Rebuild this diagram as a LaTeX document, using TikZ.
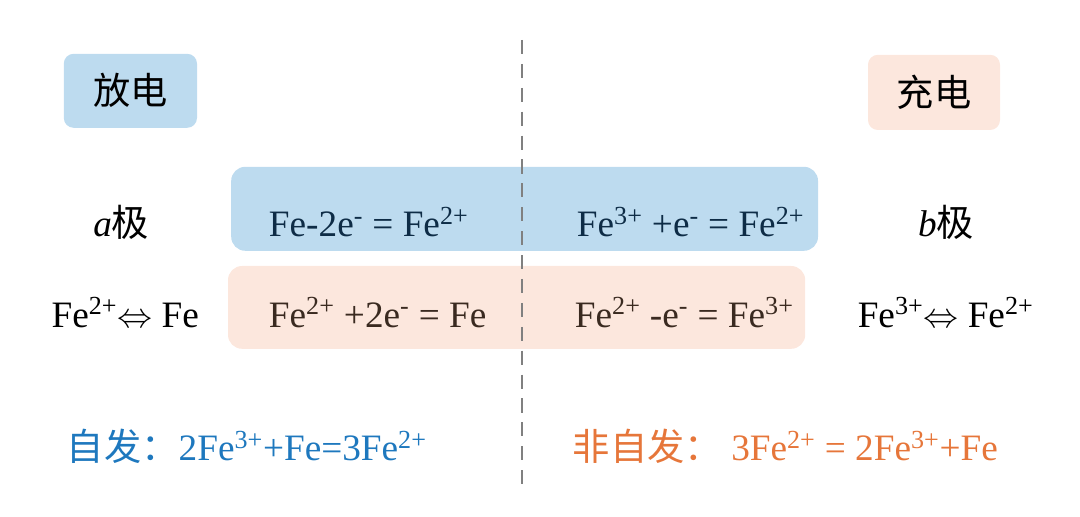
\documentclass[tikz,border=0pt]{standalone}
\usepackage{fontspec}
\setmainfont{Liberation Serif}
\newfontfamily\cjk{Noto Sans CJK SC}
\usepackage{tikz}
\definecolor{dischargebox}{HTML}{BDDBEF}
\definecolor{chargebox}{HTML}{FCE7DD}
\definecolor{dischargetext}{HTML}{0E2C46}
\definecolor{chargetext}{HTML}{3A2A20}
\definecolor{spontblue}{HTML}{1E78BE}
\definecolor{forcedorange}{HTML}{E6763A}
\newcommand{\up}[1]{\textsuperscript{#1}}

\begin{document}
\begin{tikzpicture}[font=\fontsize{26.5}{30}\selectfont]
        \useasboundingbox (0,0) rectangle (27,12.9);

        \coordinate (Top) at (13.05,11.9);
        \coordinate (Bot) at (13.05,0.78);

        \fill[dischargebox, rounded corners=10pt] (5.78,6.63) rectangle (20.45,8.73);
        \fill[chargebox, rounded corners=10pt] (5.70,4.18) rectangle (20.13,6.25);
        \draw[gray, line width=2pt, dash pattern=on 10pt off 7pt] (Top) -- (Bot);

        \node[fill=dischargebox, rounded corners=7pt, minimum width=3.33cm, minimum height=1.85cm] (D) at (3.26,10.63) {\cjk 放电};
        \node[fill=chargebox, rounded corners=7pt, minimum width=3.3cm, minimum height=1.88cm] (C) at (23.35,10.59) {\cjk 充电};

        \node (A) at (3.03,7.35) {\textit{a}{\cjk 极}};
        \node (B) at (23.65,7.35) {\textit{b}{\cjk 极}};
        \node[anchor=west, text=dischargetext] (E1) at (6.6,7.35) {Fe-2e\up{-} = Fe\up{2+}};
        \node[anchor=west, text=dischargetext] (E2) at (14.3,7.35) {Fe\up{3+} +e\up{-} = Fe\up{2+}};

        \node (AF) at (3.13,5.08) {Fe\up{2+}$\Leftrightarrow$ Fe};
        \node (BF) at (23.64,5.08) {Fe\up{3+}$\Leftrightarrow$ Fe\up{2+}};
        \node[anchor=west, text=chargetext] (E3) at (6.6,5.08) {Fe\up{2+} +2e\up{-} = Fe};
        \node[anchor=west, text=chargetext] (E4) at (14.25,5.08) {Fe\up{2+} -e\up{-} = Fe\up{3+}};

        \node[anchor=west, text=spontblue] (S) at (1.55,1.73) {{\cjk 自发：}2Fe\up{3+}+Fe=3Fe\up{2+}};
        \node[anchor=west, text=forcedorange] (N) at (14.2,1.73) {{\cjk 非自发：} 3Fe\up{2+} = 2Fe\up{3+}+Fe};
    \end{tikzpicture}
\end{document}
